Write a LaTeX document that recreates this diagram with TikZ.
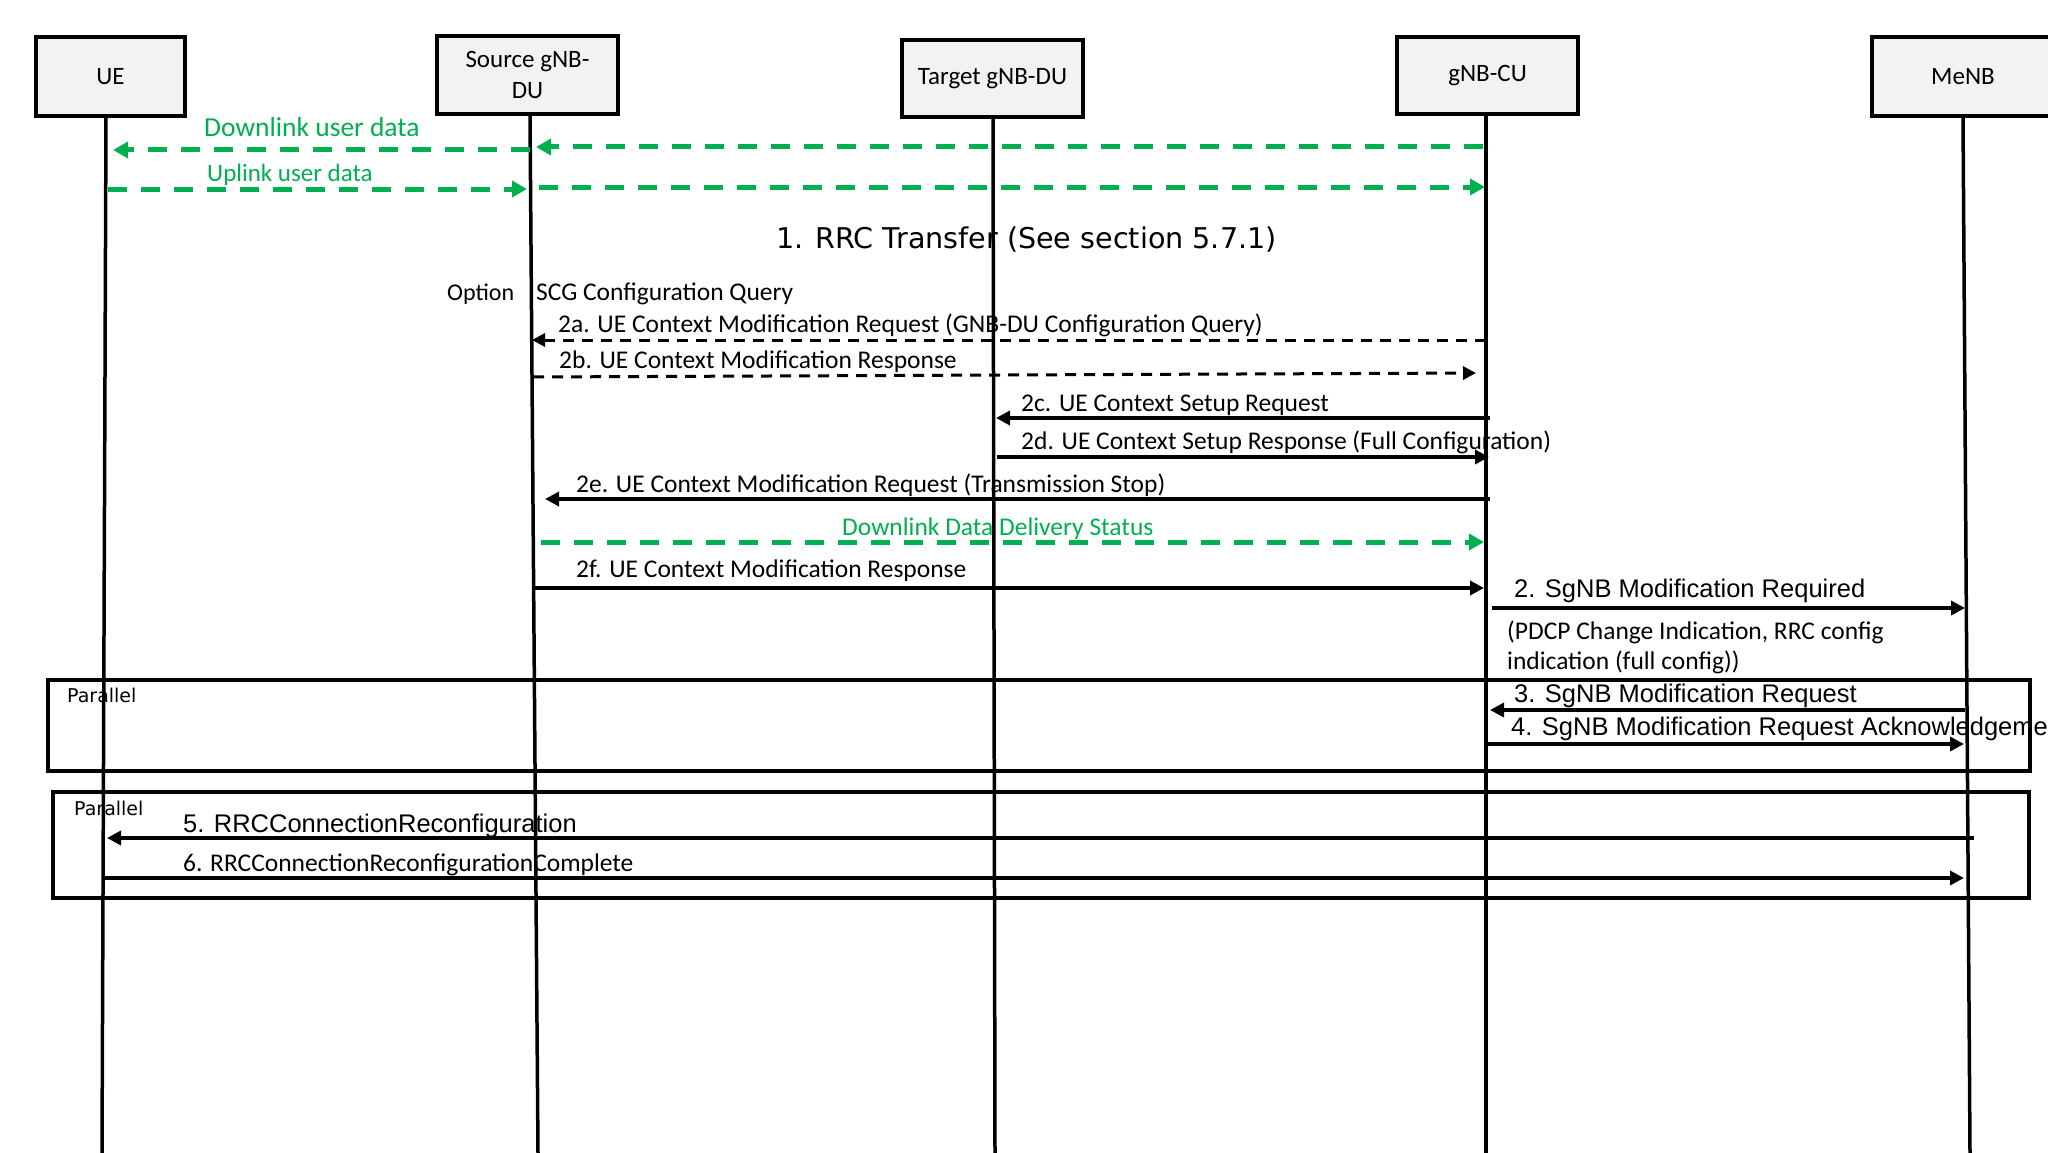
\documentclass[tikz,border=0pt]{standalone}
\usepackage{fontspec}
\setmainfont{Carlito}
\newfontfamily\dejavuf{DejaVu Sans}
\newfontfamily\arialf{Liberation Sans}
\usetikzlibrary{arrows.meta}
\definecolor{dgreen}{HTML}{00B050}
\definecolor{boxfill}{HTML}{F2F2F2}
\begin{document}
\begin{tikzpicture}[x=1pt,y=-1pt,
  actor/.style={draw=black, line width=4pt, fill=boxfill, inner sep=0pt,
    minimum height=79pt, font=\fontsize{25}{31}\selectfont, align=center},
  life/.style={line width=3.5pt},
  msg/.style={line width=4pt, -{Triangle[length=14pt,width=14pt]}},
  dmsg/.style={line width=3pt, dash pattern=on 11pt off 8pt, -{Triangle[length=13pt,width=13pt]}},
  gmsg/.style={dgreen, line width=5pt, dash pattern=on 19pt off 14pt, -{Triangle[length=15pt,width=16pt]}},
  lbl/.style={anchor=base west, inner sep=0pt, font=\fontsize{25.5}{30}\selectfont},
  albl/.style={lbl, font=\arialf\fontsize{25.5}{30}\selectfont},
  glbl/.style={lbl, text=dgreen},
  frame/.style={draw=black, line width=4pt},
  parlbl/.style={anchor=base west, inner sep=0pt, font=\dejavuf\fontsize{19}{23}\selectfont}
]
\useasboundingbox (0,0) rectangle (2048,1153);
\fill[white] (0,0) rectangle (2048,1153);

% lifeline end points
\coordinate (ueT) at (106,118);   \coordinate (ueB) at (102,1153);
\coordinate (sduT) at (530,116);  \coordinate (sduB) at (538,1153);
\coordinate (tduT) at (993,119);  \coordinate (tduB) at (995,1153);
\coordinate (cuT) at (1486,116);  \coordinate (cuB) at (1486,1153);
\coordinate (menbT) at (1963,118);\coordinate (menbB) at (1970,1153);

\draw[life] (ueT) -- (ueB);
\draw[life] (sduT) -- (sduB);
\draw[life] (tduT) -- (tduB);
\draw[life] (cuT) -- (cuB);
\draw[life] (menbT) -- (menbB);

% actors
\node[actor, minimum width=149pt] (ue) at (110.5,76.5) {UE};
\node[actor, minimum width=181pt, minimum height=78pt] (sdu) at (527.5,75) {Source gNB-\\DU};
\node[actor, minimum width=181pt, minimum height=77pt] (tdu) at (992.5,78.5) {Target gNB-DU};
\node[actor, minimum width=181pt, minimum height=77pt] (cu) at (1487.5,75.5) {gNB-CU};
\node[actor, minimum width=182pt] (menb) at (1963,76.5) {MeNB};

% parallel frames
\node[frame, anchor=north west, inner sep=0pt, minimum width=1982pt, minimum height=91pt] (par1) at (46,678) {};
\node[frame, anchor=north west, inner sep=0pt, minimum width=1976pt, minimum height=106pt] (par2) at (51,790) {};
\node[parlbl] (par1l) at (67,702) {Parallel};
\node[parlbl] (par2l) at (74,815) {Parallel};

% user data
\coordinate (dl1a) at (1483,147); \coordinate (dl1b) at (536,147);
\coordinate (dl2a) at (530,150);  \coordinate (dl2b) at (113,150);
\draw[gmsg] (dl1a) -- (dl1b);
\draw[gmsg] (dl2a) -- (dl2b);
\node[glbl, font=\fontsize{27.5}{32}\selectfont] (dlt) at (204,137) {Downlink user data};

\coordinate (ul1a) at (108,189);  \coordinate (ul1b) at (527,189);
\coordinate (ul2a) at (539,187);  \coordinate (ul2b) at (1485,187);
\draw[gmsg] (ul1a) -- (ul1b);
\draw[gmsg] (ul2a) -- (ul2b);
\node[glbl, font=\fontsize{25}{30}\selectfont] (ult) at (207,181) {Uplink user data};

\node[anchor=base west, inner sep=0pt, font=\dejavuf\fontsize{28.6}{34}\selectfont] (rrc) at (776,248) {1. RRC Transfer (See section 5.7.1)};

\node[lbl, font=\fontsize{24}{29}\selectfont] (opt) at (447,300) {Option};
\node[lbl] (scg) at (536,300) {SCG Configuration Query};

% 2a / 2b
\coordinate (m2aS) at (1486,340); \coordinate (m2aE) at (532,340);
\draw[dmsg] (m2aS) -- (m2aE);
\node[lbl] (l2a) at (558,332) {2a. UE Context Modification Request (GNB-DU Configuration Query)};
\coordinate (m2bS) at (533,377); \coordinate (m2bE) at (1476,373);
\draw[dmsg] (m2bS) -- (m2bE);
\node[lbl] (l2b) at (559,368) {2b. UE Context Modification Response};

% 2c / 2d
\coordinate (m2cS) at (1490,418); \coordinate (m2cE) at (996,418);
\draw[msg] (m2cS) -- (m2cE);
\node[lbl] (l2c) at (1021,411) {2c. UE Context Setup Request};
\coordinate (m2dS) at (997,457); \coordinate (m2dE) at (1489,457);
\draw[msg] (m2dS) -- (m2dE);
\node[lbl] (l2d) at (1021,449) {2d. UE Context Setup Response (Full Configuration)};

% 2e
\coordinate (m2eS) at (1490,499); \coordinate (m2eE) at (545,499);
\draw[msg] (m2eS) -- (m2eE);
\node[lbl] (l2e) at (576,492) {2e. UE Context Modification Request (Transmission Stop)};

% DDDS
\coordinate (ddS) at (541,542); \coordinate (ddE) at (1484,542);
\draw[gmsg] (ddS) -- (ddE);
\node[glbl] (ddt) at (842,535) {Downlink Data Delivery Status};

% 2f
\coordinate (m2fS) at (535,588); \coordinate (m2fE) at (1484,588);
\draw[msg] (m2fS) -- (m2fE);
\node[lbl] (l2f) at (576,577) {2f. UE Context Modification Response};

% 2 SgNB Modification Required
\coordinate (m2S) at (1492,608); \coordinate (m2E) at (1965,608);
\draw[msg] (m2S) -- (m2E);
\node[albl] (l2) at (1514,597) {2. SgNB Modification Required};
\node[lbl] (pdcp1) at (1507,639) {(PDCP Change Indication, RRC config};
\node[lbl] (pdcp2) at (1507,669) {indication (full config))};

% 3 / 4
\coordinate (m3S) at (1965,710); \coordinate (m3E) at (1490,710);
\draw[msg] (m3S) -- (m3E);
\node[albl] (l3) at (1514,702) {3. SgNB Modification Request};
\coordinate (m4S) at (1486,744); \coordinate (m4E) at (1964,744);
\draw[msg] (m4S) -- (m4E);
\node[albl] (l4) at (1511,735) {4. SgNB Modification Request Acknowledgement};

% 5 / 6
\coordinate (m5S) at (1974,838); \coordinate (m5E) at (107,838);
\draw[msg] (m5S) -- (m5E);
\node[albl] (l5) at (183,832) {5. RRCConnectionReconfiguration};
\coordinate (m6S) at (104,878); \coordinate (m6E) at (1964,878);
\draw[msg] (m6S) -- (m6E);
\node[lbl] (l6) at (183,871) {6. RRCConnectionReconfigurationComplete};
\end{tikzpicture}
\end{document}
